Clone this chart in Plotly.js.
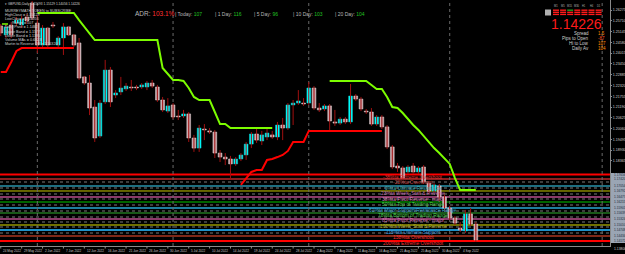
<!DOCTYPE html>
<html><head><meta charset="utf-8">
<script src="https://cdn.plot.ly/plotly-3.0.1.min.js"></script>
<style>html,body{margin:0;padding:0;background:#000;overflow:hidden}#chart{width:625px;height:254px}</style>
</head><body><div id="chart"></div>
<script>
// ---------- DATA ----------
const dates = ['24 May 2022','25 May 2022','26 May 2022','27 May 2022','29 May 2022','30 May 2022','31 May 2022',
'1 Jun 2022','2 Jun 2022','3 Jun 2022','5 Jun 2022','6 Jun 2022','7 Jun 2022','8 Jun 2022','9 Jun 2022','10 Jun 2022','12 Jun 2022','13 Jun 2022','14 Jun 2022','15 Jun 2022','16 Jun 2022','17 Jun 2022','19 Jun 2022','20 Jun 2022','21 Jun 2022','22 Jun 2022','23 Jun 2022','24 Jun 2022','26 Jun 2022','27 Jun 2022','28 Jun 2022','29 Jun 2022','30 Jun 2022',
'1 Jul 2022','3 Jul 2022','4 Jul 2022','5 Jul 2022','6 Jul 2022','7 Jul 2022','8 Jul 2022','10 Jul 2022','11 Jul 2022','12 Jul 2022','13 Jul 2022','14 Jul 2022','15 Jul 2022','17 Jul 2022','18 Jul 2022','19 Jul 2022','20 Jul 2022','21 Jul 2022','22 Jul 2022','24 Jul 2022','25 Jul 2022','26 Jul 2022','27 Jul 2022','28 Jul 2022','29 Jul 2022','31 Jul 2022',
'1 Aug 2022','2 Aug 2022','3 Aug 2022','4 Aug 2022','5 Aug 2022','7 Aug 2022','8 Aug 2022','9 Aug 2022','10 Aug 2022','11 Aug 2022','12 Aug 2022','14 Aug 2022','15 Aug 2022','16 Aug 2022','17 Aug 2022','18 Aug 2022','19 Aug 2022','21 Aug 2022','22 Aug 2022','23 Aug 2022','24 Aug 2022','25 Aug 2022','26 Aug 2022','28 Aug 2022','29 Aug 2022','30 Aug 2022','31 Aug 2022',
'1 Sep 2022','2 Sep 2022','4 Sep 2022','5 Sep 2022','6 Sep 2022','7 Sep 2022'];

const openP = [1.2544,1.2497,1.2549,1.2559,1.2549,1.2591,1.2664,1.2559,1.2444,1.2533,1.2549,1.2444,1.2481,1.2539,1.2497,1.2455,1.2277,1.2245,1.2119,1.1967,1.2146,1.2313,1.2182,1.2198,1.2214,1.2224,1.2224,1.2224,1.2224,1.2245,1.2224,1.2156,1.2098,1.2130,1.2072,1.2072,1.2083,1.1957,1.1904,1.2004,1.1994,1.1988,1.1878,1.1857,1.1847,1.1821,1.1847,1.1868,1.1925,1.1978,1.1941,1.1962,1.1973,1.1962,1.2025,1.2009,1.2130,1.2140,1.2140,1.2140,1.2219,1.2114,1.2109,1.2125,1.2041,1.2035,1.2056,1.2041,1.2177,1.2161,1.2098,1.2093,1.2030,1.2067,1.2015,1.1910,1.1810,1.1800,1.1779,1.1810,1.1779,1.1805,1.1721,1.1679,1.1705,1.1648,1.1590,1.1538,1.1485,1.1470,1.1559,1.1506];
const highP = [1.2554,1.2554,1.2565,1.2591,1.2596,1.2607,1.2675,1.2601,1.2549,1.2539,1.2565,1.2491,1.2559,1.2544,1.2502,1.2481,1.2282,1.2287,1.2156,1.2156,1.2366,1.2329,1.2208,1.2277,1.2245,1.2261,1.2235,1.2245,1.2256,1.2261,1.2235,1.2172,1.2166,1.2140,1.2104,1.2104,1.2093,1.1973,1.2025,1.2030,1.2009,1.1999,1.1894,1.1878,1.1863,1.1857,1.1878,1.1936,1.1988,1.2004,1.1994,1.2004,1.1994,1.2041,1.2062,1.2140,1.2156,1.2208,1.2166,1.2250,1.2229,1.2140,1.2135,1.2135,1.2104,1.2067,1.2067,1.2240,1.2187,1.2172,1.2109,1.2114,1.2077,1.2077,1.2025,1.1920,1.1826,1.1810,1.1815,1.1826,1.1810,1.1815,1.1732,1.1721,1.1716,1.1658,1.1601,1.1548,1.1517,1.1580,1.1590,1.1517];
const lowP = [1.2491,1.2481,1.2481,1.2544,1.2533,1.2554,1.2575,1.2402,1.2434,1.2434,1.2533,1.2434,1.2392,1.2491,1.2434,1.2261,1.2235,1.2077,1.1936,1.1957,1.2135,1.2119,1.2166,1.2182,1.2203,1.2203,1.2208,1.2214,1.2208,1.2219,1.2146,1.2093,1.2088,1.2056,1.2051,1.2062,1.1936,1.1884,1.1884,1.1946,1.1978,1.1852,1.1831,1.1815,1.1737,1.1810,1.1836,1.1842,1.1904,1.1931,1.1920,1.1946,1.1952,1.1946,1.1946,1.1999,1.2025,1.2130,1.2125,1.2130,1.2104,1.2093,1.2098,1.1999,1.2020,1.2025,1.2030,1.2030,1.2151,1.2098,1.2083,1.2020,1.2020,1.2004,1.1899,1.1794,1.1779,1.1737,1.1768,1.1768,1.1768,1.1716,1.1669,1.1669,1.1637,1.1580,1.1527,1.1501,1.1464,1.1459,1.1496,1.1412];
const closeP = [1.2507,1.2539,1.2497,1.2575,1.2580,1.2570,1.2586,1.2444,1.2533,1.2444,1.2544,1.2481,1.2539,1.2497,1.2444,1.2271,1.2245,1.2114,1.1957,1.2140,1.2313,1.2146,1.2193,1.2219,1.2229,1.2219,1.2219,1.2235,1.2245,1.2229,1.2156,1.2104,1.2125,1.2067,1.2067,1.2083,1.1957,1.1904,1.2009,1.1999,1.1988,1.1878,1.1857,1.1847,1.1821,1.1847,1.1868,1.1925,1.1978,1.1946,1.1973,1.1983,1.1962,1.2025,1.2009,1.2130,1.2140,1.2151,1.2135,1.2219,1.2114,1.2104,1.2125,1.2046,1.2035,1.2056,1.2041,1.2177,1.2161,1.2109,1.2093,1.2030,1.2067,1.2015,1.1910,1.1805,1.1800,1.1747,1.1805,1.1779,1.1800,1.1726,1.1679,1.1711,1.1648,1.1590,1.1538,1.1511,1.1475,1.1559,1.1506,1.14226];

const N = null;
const greenLine = [N,N,N,N,N,N,N,
 1.2612,1.2612,1.2612,1.2612,1.2612,1.2612,1.2612,1.2612,
 1.2575,1.2539,1.2502,
 1.2470,1.2470,1.2470,1.2470,1.2470,1.2470,1.2470,1.2470,1.2470,1.2470,1.2470,1.2470,1.2470,
 1.2324,1.2292,1.2261,1.2261,1.2256,1.2219,1.2172,
 1.2156,1.2156,1.2156,
 1.2093,1.2030,1.2030,
 1.2009,1.2009,1.2009,1.2009,1.2009,1.2009,1.2009,1.2009,1.2009,
 N,N,N,N,N,N,N,N,N,N,
 1.2256,1.2256,1.2256,1.2256,1.2256,1.2256,1.2256,1.2256,
 1.2235,1.2214,1.2214,1.2172,1.2119,1.2114,1.2088,1.2056,1.2025,1.1999,1.1967,1.1936,1.1904,1.1878,1.1852,1.1821,1.1747,
 1.1684,1.1684,1.1684,1.1684];
const redLine = [1.2303,1.2303,1.2355,1.2413,
 1.2428,1.2428,1.2428,1.2428,1.2428,1.2428,1.2428,1.2428,1.2428,1.2428,1.2428,
 N,N,N,N,N,N,N,N,N,N,N,N,N,N,N,N,N,N,N,N,N,N,N,N,N,N,N,N,N,N,N,
 1.1711,1.1747,1.1779,1.1789,1.1789,1.1842,1.1847,1.1857,1.1868,1.1889,1.1936,1.1936,1.1936,
 1.1994,1.1994,1.1994,1.1994,1.1994,1.1994,1.1994,1.1994,1.1994,1.1994,1.1994,1.1994,1.1994,1.1994,1.1994,
 N,N,N,N,N,N,N,N,N,N,N,N,N,N,N,N,N,N];

const levelPrices = [1.17656,1.17420,1.17263,1.17054,1.16949,1.16792,1.16634,1.16477,1.16372,1.16215,1.16058,1.15901,1.15744,1.15639,1.15429,1.15324,1.15167,1.15010,1.14905,1.14748,1.14591,1.14434,1.14172];
const levelLabels = ['-38%ta Extreme Overshoot','-23%ta Overshoot','0%ta Ultimate Resistance','23%ta Week_Stall & Reverse','38%ta Pivot Reverse - major','50%ta Top of Trading Range','61%ta Major Support/Resistance Range','78%ta Bottom of Trading Range','85%ta Pivot Reverse - major','100%ta Week_Stall & Reverse','115%ta Ultimate Support','138%ta Overshoot','200%ta Extreme Overshoot'];
const levelLabelPrices = [1.17525,1.17237,1.16949,1.16661,1.16372,1.16084,1.15796,1.15508,1.15220,1.14931,1.14643,1.14355,1.14067];
const separatorBars = [7,33,59,86,115.2];
const yTicks = [1.26275,1.25710,1.25145,1.24580,1.24015,1.23450,1.22885,1.22320,1.21755,1.21190,1.20625,1.20060,1.19495,1.18930,1.18365];
const adrStats = [['ADR:','103.1%'],['| Today:','107'],['| 1 Day:','116'],['| 5 Day:','96'],['| 10 Day:','103'],['| 20 Day:','104']];
const infoRows = [['Spread','1.5'],['Pips to Open','-87'],['Hi to Low','107'],['Daily Av','104']];
const bidPrice = '1.14226';
const boxLines = ['MURREYMATH TOKEN to SUBSCRIBE','HighClose = 1.15129','LowClose = 1.14056','Range = 107','Daily Pivot = 1.1462','Upper Band = 1.1577','Lower Band = 1.1395','Volume MAs = 0.6923','Martin to Reverse Off = 1.16320'];

// ---------- STYLES ----------
const levelStyles = [
 ['#ff0000','solid',2],['#8b2020','solid',2],['#7a7a7a','dot',1],['#1e6e80','solid',2],['#7a7a7a','dot',1],
 ['#c8c800','solid',1],['#7a7a7a','dot',1],['#8b3a6a','solid',2],['#7a7a7a','dot',1],['#00c800','solid',1],
 ['#7a7a7a','dot',1],['#1e7e9e','solid',2],['#7a7a7a','dot',1],['#30b030','solid',1],['#7a7a7a','dot',1],
 ['#8b3a6a','solid',2],['#7a7a7a','dot',1],['#707000','solid',2],['#7a7a7a','dot',1],['#1e90c8','solid',2],
 ['#7a7a7a','dot',1],['#802818','solid',2],['#ff0000','solid',2]];
const labelColors = ['#e03030','#c04040','#40b0b8','#c070b0','#d080b0','#50d050','#40b0d8','#50d050','#d070b0','#b0b030','#40a0e0','#ff3030','#ff3030'];

const PW = 610, PH = 246;
const px = x => x / PW, py = y => 1 - y / PH;
const FONT = 'Liberation Sans, Arial, sans-serif';

const n = dates.length;
const xs = dates.map((d, i) => i);
const traces = [];

const wx = [], wy = [];
for (let i = 0; i < n; i++) { wx.push(i, i, null); wy.push(lowP[i], highP[i], null); }
traces.push({type:'scatter', mode:'lines', x:wx, y:wy, line:{color:'#a01010', width:1}, hoverinfo:'skip', showlegend:false});

const bullI = xs.filter(i => closeP[i] >= openP[i]);
const bearI = xs.filter(i => closeP[i] < openP[i]);
const minH = 0.0005;
traces.push({type:'bar', x:bullI, base:bullI.map(i => openP[i]), y:bullI.map(i => Math.max(closeP[i]-openP[i], minH)),
  width:0.72, marker:{color:'#00ffff', line:{color:'#00d8d8', width:0.5}}, showlegend:false, hoverinfo:'skip'});
traces.push({type:'bar', x:bearI, base:bearI.map(i => closeP[i]), y:bearI.map(i => Math.max(openP[i]-closeP[i], minH)),
  width:0.72, marker:{color:'#c8a4aa', line:{color:'#e8dcdc', width:0.5}}, showlegend:false, hoverinfo:'skip'});

traces.push({type:'scatter', mode:'lines', x:xs, y:greenLine, line:{color:'#7cfc00', width:2}, connectgaps:false, showlegend:false, hoverinfo:'skip'});
traces.push({type:'scatter', mode:'lines', x:xs, y:redLine, line:{color:'#ff0000', width:2}, connectgaps:false, showlegend:false, hoverinfo:'skip'});

const shapes = [];
levelPrices.forEach((p, i) => {
  const s = levelStyles[i];
  shapes.push({type:'line', xref:'paper', yref:'y', x0:0, x1:(s[0]==='#ff0000'?625/PW:1), y0:p, y1:p, line:{color:s[0], dash:s[1], width:s[2]}, layer:'below'});
});
separatorBars.forEach(b => shapes.push({type:'line', xref:'x', yref:'paper', x0:b, x1:b, y0:0, y1:1, line:{color:'#6a6a6a', dash:'dot', width:1}, layer:'below'}));
shapes.push({type:'rect', xref:'paper', yref:'paper', x0:px(611), x1:px(625), y0:py(243), y1:py(173), fillcolor:'#9aa5b4', line:{width:0}});
for (let i = 0; i < n; i += 4) shapes.push({type:'line', xref:'x', yref:'paper', x0:i, x1:i, y0:py(246), y1:py(248.5), line:{color:'#909090', width:1}});
for (let c = 0; c < 7; c++) for (let r = 0; r < 3; r++) {
  const x0 = 553 + c*7.1, y0 = 9.5 + r*2.1;
  shapes.push({type:'rect', xref:'paper', yref:'paper', x0:px(x0), x1:px(x0+6), y0:py(y0+1.4), y1:py(y0), fillcolor:(c===2&&r===0)?'#20a020':'#ff1a1a', line:{width:0}});
}
shapes.push({type:'rect', xref:'paper', yref:'paper', x0:px(545), x1:px(551), y0:py(15.5), y1:py(9.5), fillcolor:'#b0b0b0', line:{width:0}});
shapes.push({type:'line', xref:'paper', yref:'paper', x0:px(2), x1:px(8), y0:py(24), y1:py(24), line:{color:'#7cfc00', width:1.5}});

const ann = [];
const A = (o) => ann.push(Object.assign({showarrow:false, xref:'paper', yref:'paper', font:{family:FONT, size:5, color:'#c8c8c8'}}, o));

for (let i = 0; i < n; i += 4) A({xref:'x', x:i, y:py(250.5), xanchor:'left', yanchor:'middle', xshift:0.5, text:dates[i], font:{family:FONT, size:3.1, color:'#c8c8c8'}});
levelLabels.forEach((t, i) => A({xref:'x', yref:'y', x:79, y:levelLabelPrices[i], xanchor:'center', yanchor:'middle', text:t, font:{family:FONT, size:4.9, color:labelColors[i]}}));
levelPrices.forEach((p, i) => { if (levelStyles[i][1] === 'solid') A({yref:'y', x:px(611.5), y:p, xanchor:'left', yanchor:'middle', text:p.toFixed(5), font:{family:FONT, size:3.2, color:'#1a2a3a'}}); });
A({x:px(611.5), y:py(249.5), xanchor:'left', yanchor:'middle', text:'1.13800', font:{family:FONT, size:3.4, color:'#d0d0d0'}});

A({x:px(3), y:py(3.5), xanchor:'left', yanchor:'middle', text:'\u25BE GBPUSD,Daily  1.15093 1.15129 1.14056 1.14226', font:{family:FONT, size:3.2, color:'#d8d8d8'}});
boxLines.forEach((t, i) => A({x:px(i===3?10:3), y:py(11 + i*4.1), xanchor:'left', yanchor:'middle', text:t, font:{family:FONT, size:3.7, color:'#d0d0d0'}}));

const adrX = [133, 173, 213, 252, 291, 333];
adrStats.forEach((s, i) => A({x:px(adrX[i]), y:py(14), xanchor:'left', yanchor:'middle',
  text:s[0] + ' <span style="color:' + (i===0?'#ff3030':'#20c020') + '">' + s[1] + '</span>', font:{family:FONT, size:(i===0?6.5:5), color:'#b8b8b8'}}));

const tf = ['M1','M5','M15','M30','H1','H4','D1'];
tf.forEach((t, c) => A({x:px(556 + c*7.1), y:py(6.5), xanchor:'center', yanchor:'middle', text:t, font:{family:FONT, size:2.6, color:'#b0b0b0'}}));
A({x:px(604), y:py(23.5), xanchor:'right', yanchor:'middle', text:bidPrice, font:{family:FONT, size:14, color:'#ff1a1a'}});
infoRows.forEach((r, i) => {
  A({x:px(590.5), y:py(33.5 + i*5), xanchor:'right', yanchor:'middle', text:r[0], font:{family:FONT, size:4.5, color:'#d0d0d0'}});
  A({x:px(595.5), y:py(33.5 + i*5), xanchor:'left', yanchor:'middle', text:r[1], font:{family:FONT, size:4.5, color:(i===1?'#ff5020':'#ff8c00')}});
});

const layout = {
  width:625, height:254, margin:{l:0, r:15, t:0, b:8, pad:0},
  paper_bgcolor:'#000000', plot_bgcolor:'#000000', barmode:'overlay', showlegend:false,
  xaxis:{range:[-0.15, 116.7], showgrid:false, zeroline:false, showticklabels:false, ticks:'', showline:true, linecolor:'#8a8a8a', linewidth:1, automargin:false, fixedrange:true},
  yaxis:{side:'right', range:[1.139096, 1.2680], showgrid:false, zeroline:false, tickvals:yTicks, ticktext:yTicks.map(v => v.toFixed(5)),
    tickfont:{family:FONT, size:3.6, color:'#d0d0d0'}, ticks:'outside', ticklen:1, tickcolor:'#8a8a8a', showline:true, mirror:true, linecolor:'#8a8a8a', linewidth:1, automargin:false, fixedrange:true},
  shapes:shapes, annotations:ann
};
Plotly.newPlot('chart', traces, layout, {staticPlot:true, displayModeBar:false});
</script>
</body></html>
